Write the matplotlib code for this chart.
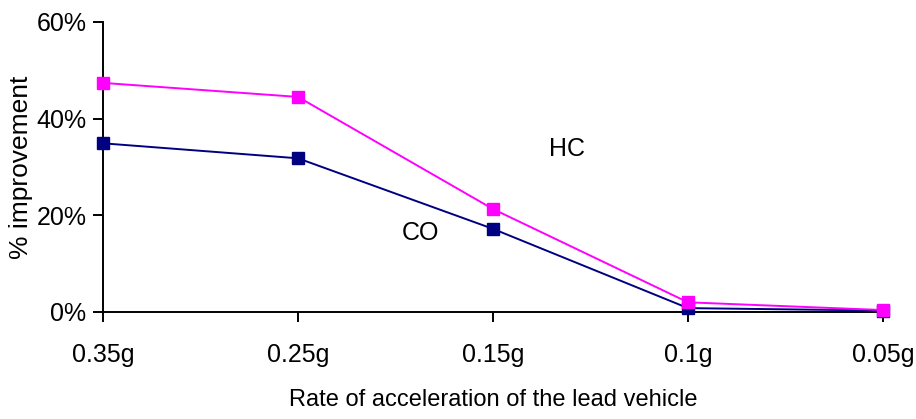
import numpy as np
import matplotlib
matplotlib.use("Agg")
import matplotlib.pyplot as plt
from matplotlib.ticker import PercentFormatter

plt.rcParams['font.family'] = ['Liberation Sans', 'DejaVu Sans']

categories = ['0.35g', '0.25g', '0.15g', '0.1g', '0.05g']
hc = [47.4, 44.5, 21.3, 2.0, 0.4]
co = [34.9, 31.8, 17.2, 0.8, 0.3]

fig = plt.figure(figsize=(9.16, 4.19), dpi=100)
ax = fig.add_axes([0.1124, 0.2554, 0.8516, 0.6921])

x = np.arange(len(categories))
ax.plot(x, co, color='#000080', marker='s', markersize=9, linewidth=1.4, clip_on=False, zorder=3)
ax.plot(x, hc, color='#FF00FF', marker='s', markersize=9, linewidth=1.4, clip_on=False, zorder=4)

ax.set_xlim(0, len(categories) - 1)
ax.set_ylim(0, 60)
ax.set_xticks(x)
ax.set_xticklabels(categories)
ax.set_yticks([0, 20, 40, 60])
ax.yaxis.set_major_formatter(PercentFormatter(decimals=0))

for side in ['top', 'right']:
    ax.spines[side].set_visible(False)
for side in ['left', 'bottom']:
    ax.spines[side].set_linewidth(1.4)
ax.tick_params(axis='both', direction='out', length=7, width=1.4, labelsize=18)
ax.tick_params(axis='x', pad=15)
ax.tick_params(axis='y', pad=5)

ax.text(2.38, 33.7, 'HC', fontsize=18, ha='center', va='center')
ax.text(1.626, 16.3, 'CO', fontsize=18, ha='center', va='center')

ax.set_xlabel('Rate of acceleration of the lead vehicle', fontsize=17, labelpad=16)
ax.set_ylabel('% improvement', fontsize=19)
ax.yaxis.set_label_coords(-0.09, 0.5)

fig.savefig('out.png', dpi=100)
